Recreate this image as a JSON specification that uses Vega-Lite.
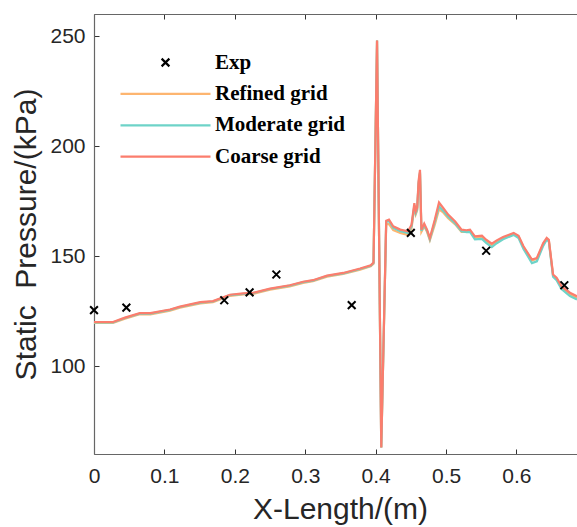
{
  "$schema": "https://vega.github.io/schema/vega-lite/v6.json",
  "autosize": {"type": "none"},
  "width": 483,
  "height": 440,
  "padding": {"left": 94, "top": 14, "right": 0, "bottom": 73},
  "background": "white",
  "config": {
    "view": {"stroke": null},
    "font": "Liberation Sans"
  },
  "datasets": {
    "coarse": [
      {"x":0,"y":120},{"x":0.027,"y":120},{"x":0.044,"y":122},{"x":0.065,"y":124},{"x":0.08,"y":124},
      {"x":0.108,"y":125.7},{"x":0.122,"y":127},{"x":0.151,"y":129},{"x":0.169,"y":129.5},{"x":0.193,"y":132.4},
      {"x":0.212,"y":133},{"x":0.226,"y":133.3},{"x":0.25,"y":135.2},{"x":0.278,"y":136.7},{"x":0.297,"y":138.3},
      {"x":0.311,"y":139},{"x":0.331,"y":141.1},{"x":0.354,"y":142.3},{"x":0.378,"y":144.3},{"x":0.393,"y":145.8},
      {"x":0.397,"y":147},{"x":0.402,"y":248},{"x":0.408,"y":63},{"x":0.415,"y":166},{"x":0.419,"y":166.5},
      {"x":0.425,"y":163.5},{"x":0.435,"y":162},{"x":0.446,"y":161.2},{"x":0.451,"y":164.2},{"x":0.455,"y":174},
      {"x":0.457,"y":170.3},{"x":0.459,"y":172},{"x":0.461,"y":184},{"x":0.463,"y":189.2},{"x":0.465,"y":162},
      {"x":0.469,"y":164.7},{"x":0.473,"y":162},{"x":0.477,"y":158.2},{"x":0.484,"y":166.5},{"x":0.49,"y":174.3},
      {"x":0.496,"y":171.8},{"x":0.503,"y":168.8},{"x":0.513,"y":165.7},{"x":0.522,"y":162},{"x":0.529,"y":161.7},
      {"x":0.534,"y":162},{"x":0.541,"y":158.9},{"x":0.551,"y":159.2},{"x":0.557,"y":157.4},{"x":0.565,"y":155.6},
      {"x":0.572,"y":157.1},{"x":0.581,"y":158.6},{"x":0.596,"y":160.5},{"x":0.603,"y":159.2},{"x":0.61,"y":154.4},
      {"x":0.622,"y":148.4},{"x":0.629,"y":149.1},{"x":0.638,"y":155.9},{"x":0.643,"y":158.2},{"x":0.646,"y":157.4},
      {"x":0.65,"y":146.9},{"x":0.652,"y":141.6},{"x":0.657,"y":140.1},{"x":0.664,"y":136.3},{"x":0.676,"y":133.3},
      {"x":0.686,"y":131.7}
    ],
    "moderate": [
      {"x":0,"y":119.8},{"x":0.027,"y":119.8},{"x":0.044,"y":121.8},{"x":0.065,"y":123.8},{"x":0.08,"y":123.8},
      {"x":0.108,"y":125.5},{"x":0.122,"y":126.8},{"x":0.151,"y":128.8},{"x":0.169,"y":129.3},{"x":0.193,"y":132.2},
      {"x":0.212,"y":132.8},{"x":0.226,"y":133.1},{"x":0.25,"y":135},{"x":0.278,"y":136.5},{"x":0.297,"y":138.1},
      {"x":0.311,"y":138.8},{"x":0.331,"y":140.9},{"x":0.354,"y":142.1},{"x":0.378,"y":144.1},{"x":0.393,"y":145.6},
      {"x":0.397,"y":146.8},{"x":0.402,"y":248},{"x":0.408,"y":63},{"x":0.415,"y":165.5},{"x":0.419,"y":165.8},
      {"x":0.425,"y":162.8},{"x":0.435,"y":161.3},{"x":0.446,"y":160.5},{"x":0.451,"y":163.4},{"x":0.455,"y":173},
      {"x":0.457,"y":169.5},{"x":0.459,"y":171.2},{"x":0.461,"y":183},{"x":0.463,"y":188},{"x":0.465,"y":161.5},
      {"x":0.469,"y":164},{"x":0.473,"y":161.5},{"x":0.477,"y":157.6},{"x":0.484,"y":165.5},{"x":0.49,"y":172.6},
      {"x":0.496,"y":170.5},{"x":0.503,"y":167.8},{"x":0.513,"y":164.8},{"x":0.522,"y":161.2},{"x":0.529,"y":160.8},
      {"x":0.534,"y":161},{"x":0.541,"y":157.6},{"x":0.551,"y":157.8},{"x":0.557,"y":156},{"x":0.565,"y":154},
      {"x":0.572,"y":155.8},{"x":0.581,"y":157.6},{"x":0.596,"y":159.6},{"x":0.603,"y":158.2},{"x":0.61,"y":153.2},
      {"x":0.622,"y":146.8},{"x":0.629,"y":147.6},{"x":0.638,"y":154.6},{"x":0.643,"y":157.4},{"x":0.646,"y":156.6},
      {"x":0.65,"y":145.8},{"x":0.652,"y":140.6},{"x":0.657,"y":139},{"x":0.664,"y":135},{"x":0.676,"y":131.8},
      {"x":0.686,"y":130.2}
    ],
    "refined": [
      {"x":0,"y":119.6},{"x":0.027,"y":119.6},{"x":0.044,"y":121.5},{"x":0.065,"y":123.5},{"x":0.08,"y":123.5},
      {"x":0.108,"y":125.2},{"x":0.122,"y":126.5},{"x":0.151,"y":128.5},{"x":0.169,"y":129},{"x":0.193,"y":131.9},
      {"x":0.212,"y":132.5},{"x":0.226,"y":132.8},{"x":0.25,"y":134.7},{"x":0.278,"y":136.2},{"x":0.297,"y":137.8},
      {"x":0.311,"y":138.5},{"x":0.331,"y":140.6},{"x":0.354,"y":141.8},{"x":0.378,"y":143.8},{"x":0.393,"y":145.3},
      {"x":0.397,"y":146.5},{"x":0.402,"y":248},{"x":0.408,"y":63},{"x":0.415,"y":164.5},{"x":0.419,"y":164.5},
      {"x":0.425,"y":161.8},{"x":0.435,"y":160.5},{"x":0.446,"y":159.6},{"x":0.451,"y":162.6},{"x":0.455,"y":172.5},
      {"x":0.457,"y":169},{"x":0.459,"y":170.8},{"x":0.461,"y":182.5},{"x":0.463,"y":187.5},{"x":0.465,"y":161},
      {"x":0.469,"y":163.4},{"x":0.473,"y":161},{"x":0.477,"y":157.2},{"x":0.484,"y":164.2},{"x":0.49,"y":171.2},
      {"x":0.496,"y":169.8},{"x":0.503,"y":167.2},{"x":0.513,"y":164.4},{"x":0.522,"y":161},{"x":0.529,"y":161},
      {"x":0.534,"y":161.4},{"x":0.541,"y":158.4},{"x":0.551,"y":158.6},{"x":0.557,"y":156.8},{"x":0.565,"y":155},
      {"x":0.572,"y":156.6},{"x":0.581,"y":158.2},{"x":0.596,"y":160.1},{"x":0.603,"y":158.8},{"x":0.61,"y":154},
      {"x":0.622,"y":148},{"x":0.629,"y":148.7},{"x":0.638,"y":155.4},{"x":0.643,"y":157.8},{"x":0.646,"y":157},
      {"x":0.65,"y":146.5},{"x":0.652,"y":141.2},{"x":0.657,"y":139.7},{"x":0.664,"y":135.8},{"x":0.676,"y":132.7},
      {"x":0.686,"y":131}
    ],
    "exp": [
      {"x":0,"y":125.4},{"x":0.046,"y":126.5},{"x":0.185,"y":129.9},{"x":0.221,"y":133.5},{"x":0.259,"y":141.6},
      {"x":0.366,"y":127.7},{"x":0.45,"y":160.5},{"x":0.557,"y":152.4},{"x":0.668,"y":136.7}
    ]
  },
  "resolve": {"axis": {"x": "independent"}},
  "layer": [
    {
      "data": {"name": "refined"},
      "transform": [{"calculate": "'Refined grid'", "as": "series"}],
      "mark": {"type": "line", "strokeWidth": 2.2, "clip": true},
      "encoding": {
        "x": {
          "field": "x", "type": "quantitative",
          "scale": {"domain": [0, 0.686], "nice": false, "zero": false},
          "axis": {
            "orient": "bottom",
            "values": [0, 0.1, 0.2, 0.3, 0.4, 0.5, 0.6],
            "format": "~g",
            "title": "X-Length/(m)",
            "titleFont": "Liberation Sans", "titleFontSize": 30, "titleFontWeight": "normal", "titleColor": "#262626",
            "titlePadding": 8, "titleX": 246,
            "labelFont": "Liberation Sans", "labelFontSize": 21, "labelColor": "#262626", "labelPadding": 16,
            "labelFlush": false,
            "domainColor": "#666666", "domainWidth": 1.2,
            "tickColor": "#333333", "tickSize": -5, "tickWidth": 1,
            "grid": false
          }
        },
        "y": {
          "field": "y", "type": "quantitative",
          "scale": {"domain": [60, 260], "nice": false, "zero": false},
          "axis": {
            "values": [100, 150, 200, 250],
            "title": "Static\u00a0 Pressure/(kPa)",
            "titleFont": "Liberation Sans", "titleFontSize": 30, "titleFontWeight": "normal", "titleColor": "#262626",
            "titlePadding": 8,
            "labelFont": "Liberation Sans", "labelFontSize": 21, "labelColor": "#262626", "labelPadding": 14,
            "domainColor": "#666666", "domainWidth": 1.2,
            "tickColor": "#333333", "tickSize": -5, "tickWidth": 1,
            "grid": false
          }
        },
        "color": {
          "field": "series", "type": "nominal",
          "scale": {
            "domain": ["Exp", "Refined grid", "Moderate grid", "Coarse grid"],
            "range": ["#000000", "#FDB570", "#6ED3C8", "#FB7D6D"]
          },
          "legend": {
            "orient": "none",
            "legendX": 25,
            "legendY": 38,
            "title": null,
            "symbolType": "stroke",
            "symbolSize": 8100,
            "symbolStrokeWidth": 2.2,
            "clipHeight": 21,
            "rowPadding": 9.4,
            "labelOffset": 3,
            "labelFont": "Liberation Serif",
            "labelFontWeight": "bold",
            "labelFontSize": 21,
            "labelColor": "#000000",
            "labelLimit": 300,
            "encode": {
              "symbols": {
                "update": {
                  "shape": {"signal": "datum.value === 'Exp' ? 'M-1,-1L1,1M-1,1L1,-1' : 'stroke'"},
                  "size": {"signal": "datum.value === 'Exp' ? 60 : 8100"},
                  "fill": {"value": "transparent"},
                  "strokeWidth": {"value": 2.2}
                }
              }
            }
          }
        }
      }
    },
    {
      "data": {"name": "moderate"},
      "transform": [{"calculate": "'Moderate grid'", "as": "series"}],
      "mark": {"type": "line", "strokeWidth": 2.2, "clip": true},
      "encoding": {
        "x": {"field": "x", "type": "quantitative", "axis": null},
        "y": {"field": "y", "type": "quantitative"},
        "color": {"field": "series", "type": "nominal"}
      }
    },
    {
      "data": {"name": "coarse"},
      "transform": [{"calculate": "'Coarse grid'", "as": "series"}],
      "mark": {"type": "line", "strokeWidth": 2.2, "clip": true},
      "encoding": {
        "x": {"field": "x", "type": "quantitative", "axis": null},
        "y": {"field": "y", "type": "quantitative"},
        "color": {"field": "series", "type": "nominal"}
      }
    },
    {
      "data": {"name": "exp"},
      "transform": [{"calculate": "'Exp'", "as": "series"}],
      "mark": {"type": "point", "shape": "M-1,-1L1,1M-1,1L1,-1", "size": 60, "filled": false, "strokeWidth": 2, "opacity": 1},
      "encoding": {
        "x": {
          "field": "x", "type": "quantitative",
          "axis": {
            "orient": "top", "labels": false, "title": null,
            "values": [0, 0.1, 0.2, 0.3, 0.4, 0.5, 0.6],
            "domainColor": "#666666", "domainWidth": 1.2,
            "tickColor": "#333333", "tickSize": -5, "tickWidth": 1,
            "grid": false
          }
        },
        "y": {"field": "y", "type": "quantitative"},
        "color": {"field": "series", "type": "nominal"}
      }
    }
  ]
}
